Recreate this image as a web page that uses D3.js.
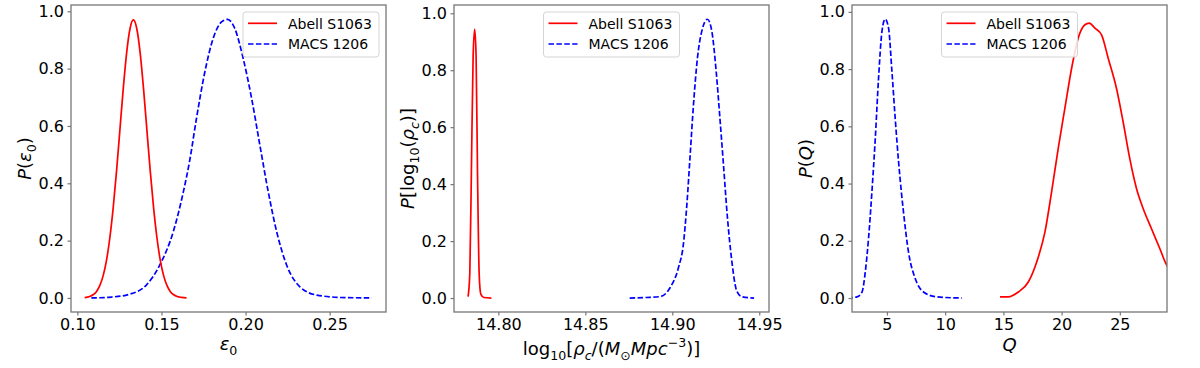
<!DOCTYPE html>
<html>
<head>
<meta charset="utf-8">
<script src="https://cdn.jsdelivr.net/npm/d3@7"></script>
<style>
  body { margin: 0; background: #fff; }
  svg { display: block; font-family: "DejaVu Sans", sans-serif; }
</style>
</head>
<body>
<div id="chart"></div>
<script>
// series labels
const legendLabels = ["Abell S1063", "MACS 1206"];

// panel 1: eccentricity eps_0  [x, P]
const epsAbell = [[0.1043,0.001],[0.1073,0.005],[0.1093,0.011],[0.1113,0.022],[0.1133,0.043],[0.1153,0.077],
  [0.1173,0.131],[0.1193,0.21],[0.1213,0.315],[0.1233,0.444],[0.1253,0.588],[0.1273,0.732],[0.1293,0.856],
  [0.1313,0.94],[0.1333,0.97],[0.1353,0.94],[0.1373,0.856],[0.1393,0.732],[0.1413,0.588],[0.1433,0.444],
  [0.1453,0.315],[0.1473,0.21],[0.1493,0.131],[0.1513,0.077],[0.1533,0.043],[0.1553,0.022],[0.1573,0.011],
  [0.1593,0.005],[0.162,0.002],[0.1649,0]];
const epsMacs = [[0.1083,0],[0.12,0.003],[0.131,0.013],[0.141,0.045],[0.149,0.115],[0.157,0.231],[0.163,0.37],
  [0.1668,0.48],[0.1708,0.626],[0.1758,0.789],[0.1807,0.905],[0.1857,0.963],[0.1893,0.972],[0.1936,0.94],
  [0.1986,0.835],[0.2036,0.696],[0.2085,0.533],[0.2135,0.37],[0.2185,0.231],[0.2244,0.115],[0.2323,0.039],
  [0.2423,0.01],[0.2562,0.002],[0.275,0]];

// panel 2: log10 rho_c
const rhoAbell = [[14.7826,0.005],[14.7836,0.09],[14.7845,0.447],[14.7855,0.85],[14.7864,0.944],[14.7872,0.85],
  [14.788,0.447],[14.789,0.08],[14.7899,0.014],[14.7917,0.002],[14.796,0]];
const rhoMacs = [[14.8755,0],[14.885,0.002],[14.893,0.005],[14.8988,0.037],[14.9036,0.108],[14.9064,0.19],
  [14.9084,0.33],[14.9103,0.505],[14.9122,0.68],[14.9145,0.845],[14.917,0.938],[14.9202,0.979],[14.9227,0.938],
  [14.9252,0.798],[14.9275,0.622],[14.9294,0.47],[14.9317,0.283],[14.9342,0.131],[14.937,0.026],[14.9399,0.005],[14.947,0]];

// panel 3: Q
const qAbell = [[14.71,0.004],[15.42,0.004],[16.28,0.021],[17.14,0.056],[17.86,0.126],[18.57,0.231],[19.14,0.371],
  [19.71,0.523],[20.28,0.663],[20.86,0.803],[21.42,0.908],[22.0,0.955],[22.37,0.961],[22.86,0.943],[23.43,0.92],
  [24.0,0.838],[24.71,0.733],[25.28,0.616],[25.85,0.488],[26.43,0.383],[27.0,0.313],[27.71,0.243],[28.43,0.173],
  [29.0,0.117],[29.3,0.1]];
const qMacs = [[1.6,0],[2.43,0.004],[2.86,0.021],[3.14,0.091],[3.42,0.208],[3.71,0.371],[4.0,0.558],[4.28,0.768],
  [4.57,0.931],[4.85,0.975],[5.14,0.943],[5.43,0.791],[5.71,0.628],[6.0,0.476],[6.42,0.301],[6.85,0.161],
  [7.43,0.068],[8.14,0.021],[9.29,0.004],[11.43,0]];

// tick values
const yTicks = [0, 0.2, 0.4, 0.6, 0.8, 1.0];
const epsTicks = [0.10, 0.15, 0.20, 0.25];
const rhoTicks = [14.80, 14.85, 14.90, 14.95];
const qTicks = [5, 10, 15, 20, 25];

const W = 1200, H = 368;
const pw = 315, ph = 307, padTop = 5;
const frameColor = "#777";

const panels = [
  { left: 71, xDomain: [0.0962, 0.2835], yDomain: [-0.049, 1.022], ticks: epsTicks, fmt: d3.format(".2f"),
    abell: epsAbell, macs: epsMacs, legend: "right",
    xlab: [{t:"ε",it:1},{t:"0",sub:1}], xlabY: 350,
    ylab: [{t:"P",it:1},{t:"("},{t:"ε",it:1},{t:"0",sub:1},{t:")"}] },
  { left: 454, xDomain: [14.7745, 14.9556], yDomain: [-0.049, 1.029], ticks: rhoTicks, fmt: d3.format(".2f"),
    abell: rhoAbell, macs: rhoMacs, legend: "center",
    xlab: [{t:"log"},{t:"10",sub:1},{t:"["},{t:"ρ",it:1},{t:"c",it:1,sub:1},{t:"/("},{t:"M",it:1},{t:"⊙",sub:1},
           {t:"Mpc",it:1},{t:"−3",sup:1},{t:")]"}], xlabY: 355,
    ylab: [{t:"P",it:1},{t:"[log"},{t:"10",sub:1},{t:"("},{t:"ρ",it:1},{t:"c",it:1,sub:1},{t:")]"}] },
  { left: 852, xDomain: [2, 29.05], yDomain: [-0.0488, 1.024], ticks: qTicks, fmt: d3.format("d"),
    abell: qAbell, macs: qMacs, legend: "center",
    xlab: [{t:"Q",it:1}], xlabY: 351,
    ylab: [{t:"P",it:1},{t:"("},{t:"Q",it:1},{t:")"}] }
];

const svg = d3.select("#chart").append("svg").attr("width", W).attr("height", H);

// mathtext-ish label built from tspans
function mathText(sel, parts, size) {
  let shift = 0;
  parts.forEach(p => {
    const target = p.sub ? size * 0.26 : p.sup ? -size * 0.42 : 0;
    const ts = sel.append("tspan").text(p.t)
      .attr("dy", target - shift)
      .attr("font-size", (p.sub || p.sup) ? size * 0.7 : size);
    if (p.it) ts.attr("font-style", "italic");
    shift = target;
  });
}

panels.forEach((p, i) => {
  const g = svg.append("g").attr("transform", `translate(${p.left},${padTop})`);
  const x = d3.scaleLinear().domain(p.xDomain).range([0, pw]);
  const y = d3.scaleLinear().domain(p.yDomain).range([ph, 0]);

  const clipId = "clip" + i;
  g.append("clipPath").attr("id", clipId).append("rect").attr("width", pw).attr("height", ph);

  const line = d3.line().x(d => x(d[0])).y(d => y(d[1])).curve(d3.curveMonotoneX);
  const plot = g.append("g").attr("clip-path", `url(#${clipId})`);
  plot.append("path").datum(p.macs).attr("d", line)
    .attr("fill", "none").attr("stroke", "#0000ff").attr("stroke-width", 1.7)
    .attr("stroke-dasharray", "5.5,2.4");
  plot.append("path").datum(p.abell).attr("d", line)
    .attr("fill", "none").attr("stroke", "#ff0000").attr("stroke-width", 1.7);

  // axes
  const xAxis = g.append("g").attr("transform", `translate(0,${ph})`)
    .call(d3.axisBottom(x).tickValues(p.ticks).tickFormat(p.fmt).tickSize(3.5).tickPadding(3.5));
  const yAxis = g.append("g")
    .call(d3.axisLeft(y).tickValues(yTicks).tickFormat(d3.format(".1f")).tickSize(3.5).tickPadding(3.5));
  [xAxis, yAxis].forEach(a => {
    a.select(".domain").remove();
    a.selectAll("line").attr("stroke", frameColor).attr("stroke-width", 1.2);
    a.selectAll("text").attr("font-size", 16).attr("fill", "#000")
      .attr("font-family", "'DejaVu Sans', sans-serif");
  });

  // frame
  g.append("rect").attr("width", pw).attr("height", ph)
    .attr("fill", "none").attr("stroke", frameColor).attr("stroke-width", 1.3);

  // labels
  const xl = g.append("text").attr("x", pw / 2).attr("y", p.xlabY - padTop)
    .attr("text-anchor", "middle").attr("fill", "#000");
  mathText(xl, p.xlab, 18);
  const yl = g.append("text")
    .attr("transform", `translate(-40,${ph / 2}) rotate(-90)`)
    .attr("text-anchor", "middle").attr("fill", "#000");
  mathText(yl, p.ylab, 18);

  // legend
  const lw = 136, lh = 45;
  const lx = p.legend === "right" ? pw - 7 - lw : (pw - lw) / 2;
  const lg = g.append("g").attr("transform", `translate(${lx},7)`);
  lg.append("rect").attr("width", lw).attr("height", lh).attr("rx", 3)
    .attr("fill", "#fff").attr("fill-opacity", 0.85)
    .attr("stroke", "#d4d4d4").attr("stroke-width", 1);
  const rows = [{ c: "#ff0000", dash: null }, { c: "#0000ff", dash: "5.5,2.4" }];
  rows.forEach((r, k) => {
    const ry = 11.3 + k * 20.7;
    lg.append("line").attr("x1", 5).attr("x2", 34).attr("y1", ry).attr("y2", ry)
      .attr("stroke", r.c).attr("stroke-width", 1.7).attr("stroke-dasharray", r.dash);
    lg.append("text").attr("x", 45).attr("y", ry + 5.2).attr("font-size", 14).attr("fill", "#000")
      .text(legendLabels[k]);
  });
});
</script>
</body>
</html>
